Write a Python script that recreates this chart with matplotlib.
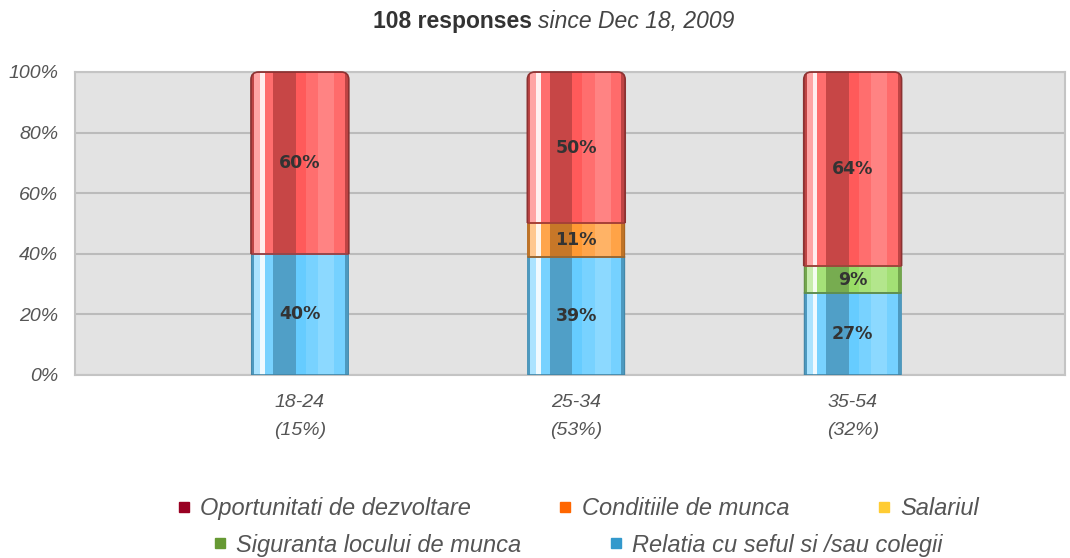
import numpy as np
import matplotlib.pyplot as plt
import matplotlib.colors as mcolors
from matplotlib.patches import FancyBboxPatch, Rectangle
from matplotlib.lines import Line2D

groups = ["18-24", "25-34", "35-54"]
group_share = ["15%", "53%", "32%"]

series = ["Oportunitati de dezvoltare", "Conditiile de munca", "Salariul",
          "Siguranta locului de munca", "Relatia cu seful si /sau colegii"]

# percent of answers per age group
oportunitati = [60, 50, 64]
conditiile = [0, 11, 0]
salariul = [0, 0, 0]
siguranta = [0, 0, 9]
relatia = [40, 39, 27]

legend_colors = ["#990022", "#FF6600", "#FFCC33", "#669933", "#3399CC"]
bar_colors = ["#FF5A5A", "#FF9933", "#FFDD55", "#99DD66", "#66CCFF"]

# stacked from the bottom up
stack = [relatia, siguranta, salariul, conditiile, oportunitati]
stack_colors = [bar_colors[4], bar_colors[3], bar_colors[2], bar_colors[1], bar_colors[0]]

# vertical stripes for the cylinder look: (start, end, shade)
stripes = [(0.00, 0.03, -0.25), (0.03, 0.09, 0.45), (0.09, 0.14, 0.9),
           (0.14, 0.23, 0.12), (0.23, 0.46, -0.22), (0.46, 0.56, 0.0),
           (0.56, 0.69, 0.12), (0.69, 0.85, 0.25), (0.85, 0.96, 0.1),
           (0.96, 1.00, -0.25)]


def shade(c, f):
    rgb = np.array(mcolors.to_rgb(c))
    if f >= 0:
        return tuple(rgb + (1 - rgb) * f)
    return tuple(rgb * (1 + f))


fig = plt.figure(figsize=(10.7, 5.58), dpi=100)
ax = fig.add_axes([0.070, 0.328, 0.925, 0.543])
ax.set_facecolor("#E3E3E3")
ax.set_xlim(-0.814, 2.767)
ax.set_ylim(0, 100)
for s in ax.spines.values():
    s.set_color("#C4C4C4")
    s.set_linewidth(1.5)

ax.set_yticks(np.arange(0, 101, 20))
ax.set_yticklabels(["%d%%" % v for v in range(0, 101, 20)])
ax.yaxis.grid(True, color="#BBBBBB", linewidth=1.5)
ax.set_axisbelow(True)
ax.tick_params(length=0, pad=12)
ax.set_xticks(range(len(groups)))
ax.set_xticklabels(["%s\n(%s)" % (g, p) for g, p in zip(groups, group_share)],
                   linespacing=1.8)
ax.tick_params(axis="x", pad=14)
for lab in ax.get_xticklabels() + ax.get_yticklabels():
    lab.set_fontfamily("Liberation Sans")
    lab.set_fontstyle("italic")
    lab.set_fontsize(14)
    lab.set_color("#555555")

width = 0.354
bb = ax.get_window_extent()
aspect = (bb.width / (2.767 + 0.814)) / (bb.height / 100.0)

x = np.arange(len(groups))
bottoms = np.zeros(len(groups))
clips = []
for i in x:
    clip = FancyBboxPatch((i - width / 2, -10), width, 110,
                          boxstyle="round,pad=0,rounding_size=0.028",
                          mutation_aspect=aspect, facecolor="none",
                          edgecolor="none", transform=ax.transData)
    ax.add_patch(clip)
    clips.append(clip)

for vals, col in zip(stack, stack_colors):
    bars = ax.bar(x, vals, width, bottom=bottoms, color=col, linewidth=0, zorder=2)
    for i, b in enumerate(bars):
        if vals[i] == 0:
            continue
        b.set_clip_path(clips[i])
        x0, y0, w, h = b.get_x(), b.get_y(), b.get_width(), b.get_height()
        for s0, s1, f in stripes:
            r = Rectangle((x0 + s0 * w, y0), (s1 - s0) * w, h,
                          facecolor=shade(col, f), linewidth=0, zorder=3)
            ax.add_patch(r)
            r.set_clip_path(clips[i])
        edge = Rectangle((x0, y0), w, h, facecolor="none",
                         edgecolor=shade(col, -0.35), linewidth=1.2, zorder=4)
        ax.add_patch(edge)
        edge.set_clip_path(clips[i])
        ax.text(x0 + w / 2, y0 + h / 2, "%d%%" % vals[i], ha="center", va="center",
                fontsize=12.5, fontweight="bold", color="#333333", zorder=5)
    bottoms = bottoms + np.array(vals)

# rounded top outline, only over the top segment
top_vals = stack[-1]
for i in x:
    top_col = stack_colors[-1]
    outline = FancyBboxPatch((i - width / 2, -10), width, 110,
                             boxstyle="round,pad=0,rounding_size=0.028",
                             mutation_aspect=aspect, facecolor="none",
                             edgecolor=shade(top_col, -0.45), linewidth=1.2, zorder=4)
    ax.add_patch(outline)
    region = Rectangle((i - width, 100 - top_vals[i]), 2 * width, top_vals[i] + 5,
                       transform=ax.transData)
    outline.set_clip_path(region)

# title
fig.text(0.497, 0.961, "108 responses", ha="right", va="center", fontsize=16.5,
         fontweight="bold", color="#333333", family="Liberation Sans")
fig.text(0.503, 0.961, "since Dec 18, 2009", ha="left", va="center", fontsize=16.5,
         fontstyle="italic", color="#444444", family="Liberation Sans")

# legend in two centred rows
def handles(idx):
    return [Line2D([], [], marker="s", linestyle="none", markersize=7,
                   markerfacecolor=legend_colors[k], markeredgecolor=legend_colors[k])
            for k in idx]

leg_font = {"family": "Liberation Sans", "style": "italic", "size": 17}
leg1 = fig.legend(handles([0, 1, 2]), series[:3], loc="center", ncol=3,
                  bbox_to_anchor=(0.540, 0.089), frameon=False, prop=leg_font,
                  handlelength=0.6, handletextpad=0.4, columnspacing=3.7,
                  labelcolor="#555555")
leg2 = fig.legend(handles([3, 4]), series[3:], loc="center", ncol=2,
                  bbox_to_anchor=(0.540, 0.023), frameon=False, prop=leg_font,
                  handlelength=0.6, handletextpad=0.4, columnspacing=3.7,
                  labelcolor="#555555")

fig.savefig("out.png", dpi=100)
